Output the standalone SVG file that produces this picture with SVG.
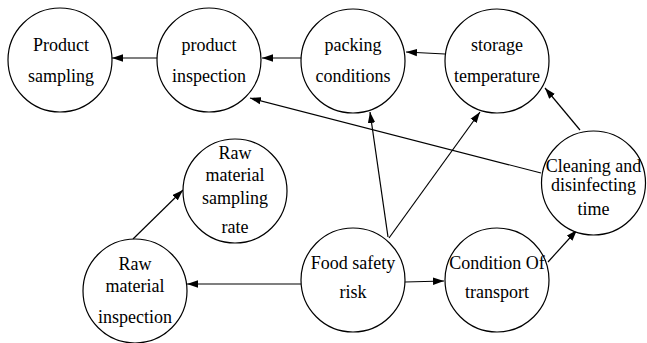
<svg xmlns="http://www.w3.org/2000/svg" width="647" height="343" viewBox="0 0 647 343">
<style>
.n circle{fill:#fff;stroke:#000;stroke-width:1.2}
.n text{font-size:18px;fill:#000;text-anchor:middle}
.e line{stroke:#000;stroke-width:1.2;fill:none;marker-end:url(#ah)}
</style>
<defs>
<marker id="ah" markerUnits="userSpaceOnUse" markerWidth="12" markerHeight="8" refX="11" refY="4" orient="auto">
<path d="M0,0.3 L11,4 L0,7.7 z" fill="#000"/>
</marker>
</defs>
<rect width="647" height="343" fill="#fff"/>
<g class="e">
<line x1="157" y1="58" x2="112" y2="58"/>
<line x1="301" y1="58" x2="262" y2="58"/>
<line x1="445" y1="54" x2="406" y2="52"/>
<line x1="541" y1="173" x2="250" y2="98"/>
<line x1="580" y1="130" x2="545" y2="88"/>
<line x1="388" y1="237" x2="370" y2="112"/>
<line x1="389" y1="238" x2="480" y2="112"/>
<line x1="301" y1="284" x2="187" y2="284"/>
<line x1="405" y1="282" x2="444" y2="281"/>
<line x1="548" y1="262" x2="577" y2="230"/>
<line x1="133" y1="239" x2="183" y2="190"/>
</g>
<g font-family="Liberation Serif, DejaVu Serif, serif">
<g id="product-sampling" class="n"><circle cx="60" cy="60" r="52"/><text x="61" y="51">Product</text><text x="61" y="82">sampling</text></g>
<g id="product-inspection" class="n"><circle cx="209" cy="60" r="52"/><text x="209" y="51">product</text><text x="209" y="82">inspection</text></g>
<g id="packing-conditions" class="n"><circle cx="353" cy="61" r="52"/><text x="353" y="51">packing</text><text x="353" y="82">conditions</text></g>
<g id="storage-temperature" class="n"><circle cx="497" cy="61" r="52"/><text x="497" y="51">storage</text><text x="497" y="82">temperature</text></g>
<g id="raw-material-sampling-rate" class="n"><circle cx="235" cy="191" r="52"/><text x="235" y="159">Raw</text><text x="235" y="181">material</text><text x="235" y="204">sampling</text><text x="235" y="233">rate</text></g>
<g id="raw-material-inspection" class="n"><circle cx="135" cy="291" r="52"/><text x="135" y="270">Raw</text><text x="135" y="292">material</text><text x="135" y="323">inspection</text></g>
<g id="food-safety-risk" class="n"><circle cx="353" cy="280" r="52"/><text x="353" y="269">Food safety</text><text x="353" y="298">risk</text></g>
<g id="condition-of-transport" class="n"><circle cx="497" cy="280" r="52"/><text x="497" y="269">Condition Of</text><text x="497" y="298">transport</text></g>
<g id="cleaning-disinfecting-time" class="n"><circle cx="593.5" cy="183" r="52"/><text x="593.5" y="172">Cleaning and</text><text x="593.5" y="191">disinfecting</text><text x="593.5" y="215">time</text></g>
</g>
</svg>
